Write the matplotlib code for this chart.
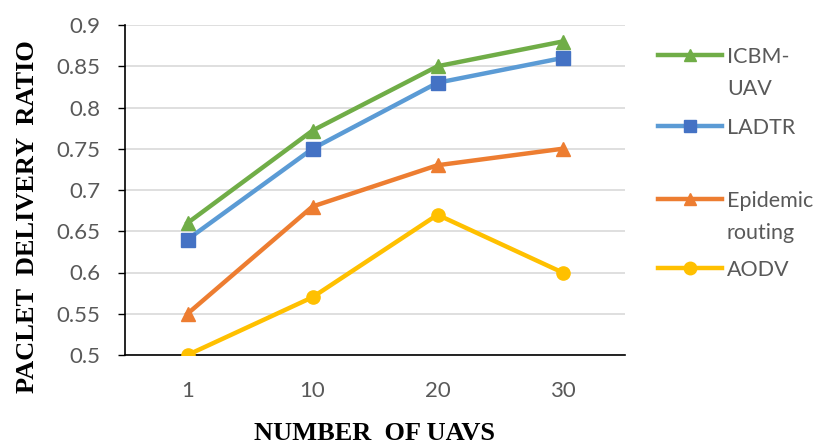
import matplotlib
matplotlib.use('Agg')
import matplotlib.pyplot as plt
from matplotlib.lines import Line2D

# Packet delivery ratio vs number of UAVs
uavs = ['1', '10', '20', '30']
icbm_uav = [0.66, 0.772, 0.85, 0.88]
ladtr = [0.64, 0.75, 0.83, 0.86]
epidemic = [0.55, 0.68, 0.73, 0.75]
aodv = [0.50, 0.57, 0.67, 0.60]

labels = ['ICBM-\nUAV', 'LADTR', 'Epidemic\nrouting', 'AODV']
line_colors = ['#70AD47', '#5B9BD5', '#ED7D31', '#FFC000']
marker_colors = ['#70AD47', '#4472C4', '#ED7D31', '#FFC000']
markers = ['^', 's', '^', 'o']

tick_color = '#595959'
tick_font = 'Lato'
serif = 'Liberation Serif'

fig = plt.figure(figsize=(8.3, 4.43), dpi=100)
ax = fig.add_axes([125/830, 1-355/443, 500/830, 330/443])

x = range(len(uavs))
series = [icbm_uav, ladtr, epidemic, aodv]
for vals, lc, mc, m in zip(series, line_colors, marker_colors, markers):
    ax.plot(x, vals, color=lc, lw=3.2, marker=m, ms=9.5, mfc=mc, mec=mc, zorder=3)

ax.set_xlim(-0.5, len(uavs) - 0.5)
ax.set_ylim(0.5, 0.9)
ax.set_xticks(list(x))
ax.set_xticklabels(uavs)
yt = [0.5 + 0.05*i for i in range(9)]
ax.set_yticks(yt)
ax.set_yticklabels(['0.5', '0.55', '0.6', '0.65', '0.7', '0.75', '0.8', '0.85', '0.9'])
ax.grid(axis='y', color='#d9d9d9', lw=1.2)
ax.set_axisbelow(True)
for s in ['top', 'right']:
    ax.spines[s].set_visible(False)
for s in ['left', 'bottom']:
    ax.spines[s].set_color('black')
    ax.spines[s].set_linewidth(1.2)
ax.tick_params(axis='y', length=5, width=1, colors='black', labelcolor=tick_color,
               labelsize=16, pad=13)
ax.tick_params(axis='x', length=0, labelcolor=tick_color, labelsize=16, pad=19)
for t in ax.get_xticklabels() + ax.get_yticklabels():
    t.set_fontfamily(tick_font)

fig.text(28/830, 1-217/443, 'PACLET  DELIVERY  RATIO', rotation=90, ha='center', va='center',
         fontsize=19, fontweight='bold', fontfamily=serif, color='black')
fig.text(374/830, 1-433/443, 'NUMBER  OF UAVS', ha='center', va='center',
         fontsize=19, fontweight='bold', fontfamily=serif, color='black')

# legend entries on the right, one text line at a time
legend_y = [55, 126, 199, 268]
line_gap = 32
for lab, lc, mc, m, yy in zip(labels, line_colors, marker_colors, markers, legend_y):
    yf = 1 - yy/443
    fig.add_artist(Line2D([658/830, 722/830], [yf, yf], color=lc, lw=3.2, transform=fig.transFigure))
    fig.add_artist(Line2D([690/830], [yf], marker=m, ms=9, mfc=mc, mec=mc, transform=fig.transFigure))
    for i, part in enumerate(lab.split('\n')):
        fig.text(727/830, 1 - (yy + i*line_gap)/443, part, ha='left', va='center_baseline',
                 fontsize=15.5, fontfamily=tick_font, color=tick_color)

fig.savefig('out.png', dpi=100)
